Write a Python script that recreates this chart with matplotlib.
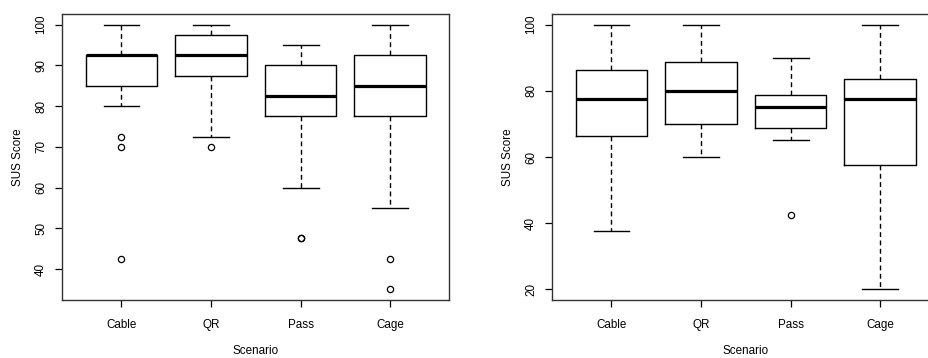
import matplotlib
matplotlib.use("Agg")
import matplotlib.pyplot as plt

plt.rcParams['font.family'] = ['Liberation Sans', 'DejaVu Sans']

categories = ["Cable", "QR", "Pass", "Cage"]

# Left panel five-number summaries + outliers
left_whislo = [80, 72.5, 60, 55]
left_q1 = [85, 87.5, 77.5, 77.5]
left_med = [92.5, 92.5, 82.5, 85]
left_q3 = [92.5, 97.5, 90, 92.5]
left_whishi = [100, 100, 95, 100]
left_fliers = [[72.5, 70, 42.5], [70], [47.5, 47.5], [42.5, 35]]

# Right panel
right_whislo = [37.5, 60, 65, 20]
right_q1 = [66.2, 70, 68.7, 57.5]
right_med = [77.5, 80, 75, 77.5]
right_q3 = [86.2, 88.7, 78.7, 83.7]
right_whishi = [100, 100, 90, 100]
right_fliers = [[], [], [42.5], []]

left_yticks = [40, 50, 60, 70, 80, 90, 100]
right_yticks = [20, 40, 60, 80, 100]

W, H = 929, 358
FS = 8.4
fig = plt.figure(figsize=(W / 100, H / 100), dpi=100)

def make_stats(lo, q1, med, q3, hi, fl):
    return [dict(whislo=a, q1=b, med=c, q3=d, whishi=e, fliers=f, label=n)
            for a, b, c, d, e, f, n in zip(lo, q1, med, q3, hi, fl, categories)]

def draw(ax, stats, yticks, ylim):
    ax.bxp(stats, positions=range(1, len(stats) + 1), widths=0.8,
           boxprops=dict(color='black', linewidth=1.0),
           medianprops=dict(color='black', linewidth=2.3, solid_capstyle='butt'),
           whiskerprops=dict(color='black', linewidth=1.0, linestyle=(0, (3.5, 2.5))),
           capprops=dict(color='black', linewidth=1.0),
           capwidths=0.4,
           flierprops=dict(marker='o', markersize=4.5, markerfacecolor='none',
                           markeredgecolor='black', markeredgewidth=0.9, linestyle='none'))
    ax.set_xlim(0.34, 4.66)
    ax.set_ylim(*ylim)
    ax.set_yticks(yticks)
    ax.set_yticklabels([str(t) for t in yticks], rotation=90, va='center', fontsize=FS)
    ax.set_xticks(range(1, len(categories) + 1))
    ax.set_xticklabels(categories, fontsize=FS)
    ax.tick_params(axis='both', direction='out', length=5, width=0.9, color='black', pad=6)
    ax.tick_params(axis='x', pad=9)
    for s in ax.spines.values():
        s.set_linewidth(1.0)
        s.set_color('#333333')
    ax.set_xlabel("Scenario", fontsize=FS, labelpad=10)
    ax.set_ylabel("SUS Score", fontsize=FS, labelpad=8)

bottom = (H - 300) / H
height = (300 - 14) / H
ax1 = fig.add_axes([62.3 / W, bottom, 387 / W, height])
draw(ax1, make_stats(left_whislo, left_q1, left_med, left_q3, left_whishi, left_fliers),
     left_yticks, (32.4, 102.6))

ax2 = fig.add_axes([552.3 / W, bottom, 387 / W, height])
draw(ax2, make_stats(right_whislo, right_q1, right_med, right_q3, right_whishi, right_fliers),
     right_yticks, (16.8, 103.2))

fig.savefig("out.png", dpi=100)
